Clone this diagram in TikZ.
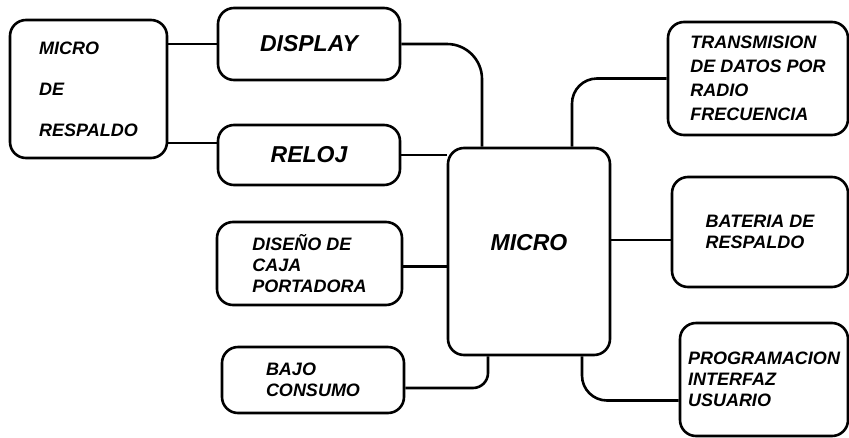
\documentclass[tikz,border=0pt]{standalone}
\usepackage{fontspec}
\setmainfont{Liberation Sans}
\usetikzlibrary{positioning}
\tikzset{
  blk/.style={draw, line width=2.6pt, rounded corners=16pt, align=left, inner sep=0pt,
    font=\bfseries\itshape\fontsize{18}{21}\selectfont},
  big/.style={font=\bfseries\itshape\fontsize{23}{27}\selectfont},
  link/.style={line width=2.6pt}
}

\begin{document}
\begin{tikzpicture}[x=1pt, y=-1pt]
\useasboundingbox (0,0) rectangle (849,437);

% left column
\node[blk, minimum width=157, minimum height=138, font=\bfseries\itshape\fontsize{18}{41}\selectfont] (respaldo) at (88.5,89) {MICRO\\DE\\RESPALDO};
\node[blk, big, minimum width=182, minimum height=72] (display) at (309,44) {DISPLAY};
\node[blk, big, minimum width=182, minimum height=60] (reloj) at (309,155) {RELOJ};
\node[blk, minimum width=185, minimum height=83] (diseno) at (309.5,263.5) {DISEÑO DE\\CAJA\\PORTADORA};
\node[blk, minimum width=182, minimum height=66] (bajo) at (313,380) {BAJO\\CONSUMO};

% centre
\node[blk, big, minimum width=162, minimum height=207, text height=16.5pt, text depth=19pt] (micro) at (529,251.5) {MICRO};

% right column
\node[blk, minimum width=180, minimum height=113, font=\bfseries\itshape\fontsize{18}{24}\selectfont] (trans) at (758,78.5) {TRANSMISION\\DE DATOS POR\\RADIO\\FRECUENCIA};
\node[blk, minimum width=176, minimum height=110] (bateria) at (760,232) {BATERIA DE\\RESPALDO};
\node[blk, minimum width=168, minimum height=113] (program) at (764,379.5) {PROGRAMACION\\INTERFAZ\\USUARIO};

% connector ends
\coordinate (relojin) at ([yshift=12pt]reloj.west);
\coordinate (disenoout) at ([yshift=-3pt]diseno.east);
\coordinate (bajoout) at ([yshift=-8pt]bajo.east);
\coordinate (bateriain) at ([yshift=-8pt]bateria.west);
\coordinate (programin) at ([yshift=-21pt]program.west);
\coordinate (microtl) at ([xshift=-47pt]micro.north);
\coordinate (microtr) at ([xshift=43pt]micro.north);
\coordinate (microbl) at ([xshift=-41pt]micro.south);
\coordinate (microbr) at ([xshift=53pt]micro.south);

% connectors
\draw[link] (respaldo.east |- display.west) -- (display.west);
\draw[link] (respaldo.east |- relojin) -- (relojin);
\draw[link, rounded corners=35pt] (display.east) -| (microtl);
\draw[link] (reloj.east) -- (reloj.east -| micro.west);
\draw[link] (disenoout) -- (disenoout -| micro.west);
\draw[link, rounded corners=15pt] (bajoout) -| (microbl);
\draw[link, rounded corners=25pt] (trans.west) -| (microtr);
\draw[link] (bateriain) -- (bateriain -| micro.east);
\draw[link, rounded corners=25pt] (microbr) |- (programin);

\end{tikzpicture}
\end{document}
